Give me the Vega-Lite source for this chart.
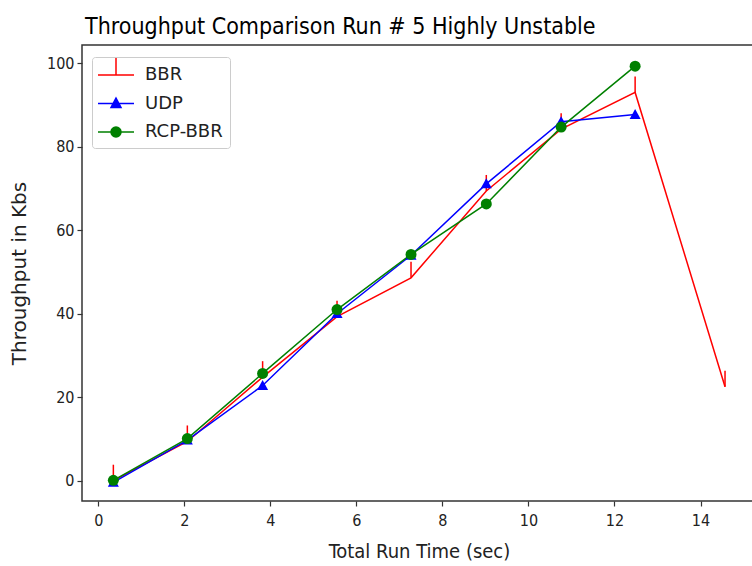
{
  "$schema": "https://vega.github.io/schema/vega-lite/v6.json",
  "width": 674,
  "height": 456,
  "autosize": {"type": "none"},
  "padding": {"left": 82, "top": 45, "right": 0, "bottom": 65},
  "background": "white",
  "title": {
    "text": "Throughput Comparison Run # 5 Highly Unstable",
    "anchor": "start",
    "frame": "group",
    "font": "DejaVu Sans Condensed",
    "fontSize": 23,
    "fontWeight": "normal",
    "color": "#000000",
    "baseline": "alphabetic",
    "offset": 14,
    "dx": 3,
    "dy": 26
  },
  "config": {
    "view": {"stroke": "#333333", "strokeWidth": 1.5},
    "axis": {
      "grid": false,
      "domain": false,
      "tickColor": "#333333",
      "tickSize": 5,
      "tickWidth": 1.2,
      "labelFont": "DejaVu Sans Condensed",
      "labelFontSize": 16,
      "labelColor": "#222222",
      "labelPadding": 3,
      "titleFont": "DejaVu Sans",
      "titleFontWeight": "normal",
      "titleColor": "#222222",
      "labelFlush": false,
      "labelOverlap": false
    }
  },
  "data": {
    "values": [
      {"series": "BBR", "time": 0.35, "tp": 0.0},
      {"series": "BBR", "time": 2.07, "tp": 9.4},
      {"series": "BBR", "time": 3.82, "tp": 24.8},
      {"series": "BBR", "time": 5.55, "tp": 39.3},
      {"series": "BBR", "time": 7.27, "tp": 48.6},
      {"series": "BBR", "time": 9.02, "tp": 69.4},
      {"series": "BBR", "time": 10.76, "tp": 84.2},
      {"series": "BBR", "time": 12.48, "tp": 93.0},
      {"series": "BBR", "time": 14.57, "tp": 22.5},
      {"series": "UDP", "time": 0.35, "tp": -0.4},
      {"series": "UDP", "time": 2.07, "tp": 9.7},
      {"series": "UDP", "time": 3.82, "tp": 22.8},
      {"series": "UDP", "time": 5.55, "tp": 40.0},
      {"series": "UDP", "time": 7.27, "tp": 54.0},
      {"series": "UDP", "time": 9.02, "tp": 71.1},
      {"series": "UDP", "time": 10.76, "tp": 86.0},
      {"series": "UDP", "time": 12.48, "tp": 87.7},
      {"series": "RCP-BBR", "time": 0.35, "tp": 0.1},
      {"series": "RCP-BBR", "time": 2.07, "tp": 10.1},
      {"series": "RCP-BBR", "time": 3.82, "tp": 25.7},
      {"series": "RCP-BBR", "time": 5.55, "tp": 41.0},
      {"series": "RCP-BBR", "time": 7.27, "tp": 54.2},
      {"series": "RCP-BBR", "time": 9.02, "tp": 66.3},
      {"series": "RCP-BBR", "time": 10.76, "tp": 84.7},
      {"series": "RCP-BBR", "time": 12.48, "tp": 99.3}
    ]
  },
  "encoding": {
    "x": {
      "field": "time",
      "type": "quantitative",
      "scale": {"domain": [-0.379, 15.29], "nice": false, "zero": false},
      "axis": {"values": [0, 2, 4, 6, 8, 10, 12, 14], "title": "Total Run Time (sec)", "titleFont": "DejaVu Sans Condensed", "titleFontSize": 20, "titlePadding": 13, "labelPadding": 6}
    },
    "y": {
      "field": "tp",
      "type": "quantitative",
      "scale": {"domain": [-4.86, 104.36], "nice": false, "zero": false},
      "axis": {"values": [0, 20, 40, 60, 80, 100], "title": "Throughput in Kbs", "titleFontSize": 20, "titlePadding": 17}
    }
  },
  "layer": [
    {
      "mark": {"type": "line", "strokeWidth": 1.5},
      "encoding": {
        "color": {
          "field": "series",
          "type": "nominal",
          "scale": {"domain": ["BBR", "UDP", "RCP-BBR"], "range": ["#ff0000", "#0000ff", "#008000"]},
          "legend": {
            "title": null,
            "orient": "none",
            "legendX": 10,
            "legendY": 12,
            "symbolSize": 400,
            "symbolStrokeWidth": 1.5,
            "labelFont": "DejaVu Sans",
            "labelFontSize": 18,
            "labelColor": "#222222",
            "labelOffset": 24,
            "rowPadding": 8.5,
            "padding": 7,
            "strokeColor": "#cccccc",
            "fillColor": "white",
            "cornerRadius": 3,
            "encode": {
              "symbols": {
                "update": {
                  "shape": {"signal": "datum.value==='BBR' ? 'M-1.2,0H2.4M0.6,0V-1.7' : datum.value==='UDP' ? 'M-1.2,0H2.4M0.6,-0.55L1.1,0.4L0.1,0.4Z' : 'M-1.2,0H2.4M0.1,0A0.5,0.5 0 1,0 1.1,0A0.5,0.5 0 1,0 0.1,0Z'"},
                  "fill": {"signal": "datum.value==='UDP' ? '#0000ff' : datum.value==='RCP-BBR' ? '#008000' : 'transparent'"},
                  "stroke": {"signal": "datum.value==='UDP' ? '#0000ff' : datum.value==='RCP-BBR' ? '#008000' : '#ff0000'"},
                  "strokeWidth": {"value": 1.5},
                  "opacity": {"value": 1}
                }
              }
            }
          }
        }
      }
    },
    {
      "transform": [{"filter": "datum.series === 'BBR'"}],
      "mark": {"type": "point", "shape": "M0,0V-1", "size": 1024, "filled": false, "stroke": "#ff0000", "strokeWidth": 1.5, "opacity": 1}
    },
    {
      "transform": [{"filter": "datum.series === 'UDP'"}],
      "mark": {"type": "point", "shape": "M0,-1L1,0.8L-1,0.8Z", "size": 121, "filled": true, "fill": "#0000ff", "strokeWidth": 0, "opacity": 1}
    },
    {
      "transform": [{"filter": "datum.series === 'RCP-BBR'"}],
      "mark": {"type": "point", "shape": "circle", "size": 121, "filled": true, "fill": "#008000", "strokeWidth": 0, "opacity": 1}
    }
  ]
}
